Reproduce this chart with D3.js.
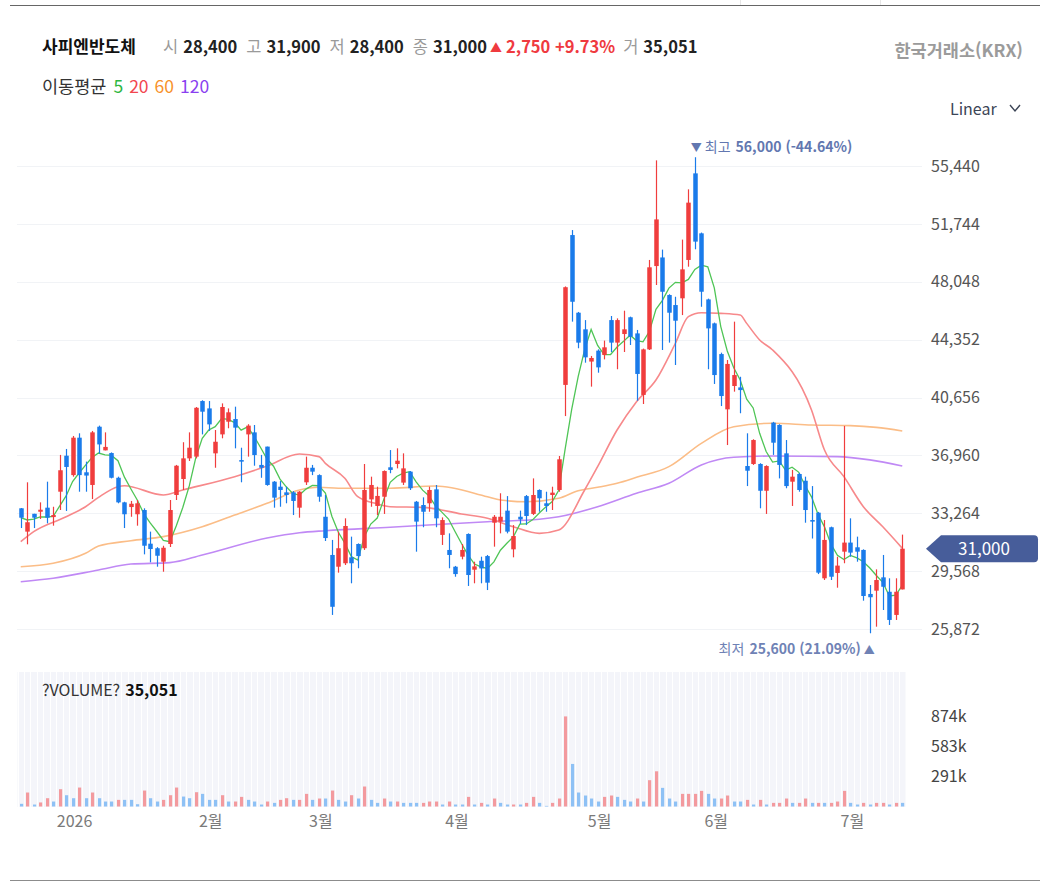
<!DOCTYPE html>
<html lang="ko">
<head>
<meta charset="utf-8">
<script src="https://cdn.jsdelivr.net/npm/d3@7/dist/d3.min.js"></script>
<style>
  body { margin: 0; background: #fff; }
  svg text { font-family: "Noto Sans CJK KR", "Noto Sans", sans-serif; }
</style>
</head>
<body>
<div id="chart"></div>
<script>
/**
 * DATA
 * */
const opens = [33580,32090,33230,33360,33620,33020,34640,36940,35700,38090,
  35880,35070,38790,37280,37110,35530,33960,33660,33200,33470,
  31320,31030,30170,31300,34430,35450,36770,36880,40430,39960,
  37090,38300,39110,39280,36660,38300,38430,36350,37520,35280,
  34960,34600,34600,33620,35240,36170,35700,33040,30600,29850,
  30070,30450,31300,31030,34150,33730,34320,36200,36410,35220,
  35920,34000,33790,33900,34790,31880,30920,29850,30490,31940,
  29660,30230,30530,32660,32730,33430,30960,33040,34360,33220,
  34750,33900,34430,34750,41460,51030,46070,45010,42950,43650,
  43370,45600,44160,44710,45780,44750,40820,43730,49050,49600,
  47200,46560,46990,49440,54970,51140,46920,45390,43430,39900,
  41390,41300,36280,36410,36410,34700,39050,38900,37090,35280,
  35770,35340,32830,33300,29110,32370,29450,30810,31390,31090,
  30920,28110,28320,29170,28250,26770,28400];
const highs = [33600,35240,33230,33960,35280,33680,36990,37370,38200,38370,
  36560,38520,38860,38430,37150,35600,34000,34050,34110,33580,
  32090,31100,31190,34110,36350,37800,38430,40050,40480,40430,
  38580,40280,39960,40070,37450,38950,38900,36990,37520,35320,
  35320,34960,34680,34680,36880,36350,35750,34430,31560,32090,
  32940,31770,31340,36410,35600,34960,36000,37300,37410,37090,
  35960,34050,34280,34960,35070,33000,31980,29900,31300,31980,
  30170,30490,30600,33150,34540,34360,32510,33430,34430,35490,
  34790,34640,34960,36920,47750,51350,46120,45600,43310,43730,
  44290,45860,45710,46200,45820,44970,43780,49440,55800,50100,
  47250,47090,50740,53950,56000,51190,46970,45440,43520,43050,
  45500,41980,38370,37990,36460,36330,39100,38950,37940,36030,
  35850,35600,35000,33350,32830,32410,30490,38840,32940,31770,
  30960,28680,29680,30600,29110,29110,31900];
const lows = [32320,31280,32320,32900,32620,32470,33470,33410,35600,34640,
  34640,34170,37070,37280,35490,33900,32320,33040,32470,30640,
  30130,29850,29530,31110,34110,34750,36600,36770,38300,38520,
  36170,38050,38690,37410,35240,36880,36300,35530,35020,33620,
  33680,33900,33150,32980,35070,35700,34000,31490,26770,29470,
  29960,28790,29750,30920,33680,33150,33220,35820,36130,35070,
  34750,30810,32370,33360,32370,31240,29750,29210,30320,28620,
  28790,28790,28360,31130,31980,31980,30450,32580,32510,33150,
  33360,33360,33470,34640,39470,45500,43800,42880,41350,42240,
  43090,43560,42460,43560,44010,40450,40240,43690,47840,43690,
  44160,42730,45920,49010,50120,46450,42460,41520,40110,37620,
  41030,39650,35000,36350,33580,33220,36990,35490,34860,33730,
  34640,32660,31650,29380,29000,29000,28510,30070,30490,30170,
  27680,25600,26020,27085,26130,26450,28400];
const closes = [32980,32690,32980,33490,32980,33150,36010,36220,38090,35700,
  35670,38430,37660,37500,35530,33960,33200,33870,33900,31190,
  30980,30550,31060,33470,36300,36770,37450,40000,39750,38940,
  37830,40050,39710,38730,36560,38860,36980,36170,35070,34260,
  34750,34430,34050,34640,36170,35920,34320,31680,27290,31030,
  32450,30070,30530,34750,35070,34370,35960,36030,36620,36130,
  34860,32730,33360,34750,32940,32830,30600,29380,30920,29320,
  29870,29740,28830,33040,33040,32090,31810,32870,33090,34430,
  34220,33730,34580,36710,47700,46770,44160,43220,43180,42580,
  43860,44160,45600,45010,44540,42160,43730,48970,52030,47410,
  46070,45560,48840,53100,50610,47410,45070,42090,40750,42800,
  42090,41130,35980,37940,34700,36280,37770,36350,35000,35600,
  34750,33470,32730,29470,31560,29210,29920,31390,30750,30810,
  27980,27900,29000,28570,26450,28250,31000];

// volume in thousands, and bar colour as drawn (u = red, d = blue)
const volumes = [26,135,19,39,80,48,167,109,80,183,
  80,135,80,48,48,64,64,64,22,154,
  80,48,64,109,183,96,80,138,122,64,
  64,109,48,48,93,64,48,19,48,35,
  64,80,64,64,122,64,77,77,154,64,
  48,109,77,193,64,35,77,48,48,35,
  35,35,35,48,48,19,48,19,19,93,
  19,35,19,77,35,19,19,19,35,93,
  35,6,35,77,870,411,135,106,77,48,
  93,106,93,64,48,77,48,254,340,180,
  77,48,122,122,122,151,122,77,77,106,
  48,48,64,19,64,19,35,35,77,35,
  35,77,35,35,35,35,48,151,35,19,
  35,19,35,35,19,35,35.051];
const volumeSide = ["d","u","d","u","u","d","u","d","d","u","d","u","d","d","d","u","d","d","d","u",
  "d","d","u","u","u","d","d","u","d","d","d","u","d","u","u","d","d","d","u","d",
  "u","u","d","u","u","d","u","d","u","d","d","u","d","u","d","d","u","d","u","d",
  "d","d","u","u","u","d","u","d","d","u","d","u","d","u","d","d","u","d","u","u",
  "d","d","u","u","u","d","d","d","d","d","u","u","d","d","d","u","d","u","u","d",
  "d","d","u","u","u","u","d","d","u","u","d","d","u","d","u","d","u","u","u","d",
  "u","u","d","u","d","u","u","u","d","d","u","d","u","u","d","u","d"];

// moving averages read as [candle index, value]
const ma20 = [[0,31450],[2,32090],[7,33040],[10,33680],[12,34280],[15,34960],[16,35020],
  [22,34430],[25,34750],[33,35600],[38,36280],[43,37050],[46,36880],[47,36450],[50,35500],
  [52,34320],[55,33860],[57,33680],[62,33640],[68,33220],[72,32940],[76,32400],[80,31980],
  [83,32190],[87,34750],[89,36240],[92,38580],[95,40390],[98,41770],[101,44120],[103,45820],
  [105,46070],[108,46030],[111,45920],[112,45390],[114,44330],[116,43690],[122,39860],
  [124,37300],[127,35600],[130,33680],[133,32400],[136,31030]];
const ma60 = [[0,29850],[5,30070],[10,30710],[12,31170],[17,31510],[22,31770],[28,32400],
  [33,33150],[38,33900],[43,34750],[46,34920],[49,34860],[57,34860],[64,35000],[72,34320],
  [74,34110],[78,34000],[83,34220],[86,34700],[89,34920],[92,35180],[95,35560],[100,36240],
  [105,37730],[110,38790],[116,39010],[122,38900],[128,38860],[132,38750],[136,38520]];
const ma120 = [[0,28890],[5,29110],[12,29640],[17,30020],[23,30110],[28,30600],[38,31680],
  [43,32020],[47,32150],[57,32370],[72,32720],[80,32880],[83,33040],[89,33680],[95,34540],
  [100,35180],[105,36350],[110,36840],[116,36920],[126,36880],[131,36670],[136,36280]];

const priceTicks = [55440,51744,48048,44352,40656,36960,33264,29568,25872];
const volumeTicks = [291,583,874];
const monthIdx = [8,29,46,67,89,107,128];
const monthLabels = ["2026","2월","3월","4월","5월","6월","7월"];

const stockName = "사피엔반도체";
const statLabels = ["시","고","저","종"];
const statValues = ["28,400","31,900","28,400","31,000"];
const changeText = "2,750 +9.73%";
const volLabel = "거", volValue = "35,051";
const maNames = ["5","20","60","120"];
const hiIdx = 104, hiText = "56,000 (-44.64%)";
const loIdx = 131, loText = "25,600 (21.09%)";

/**
 * CONSTANTS
 * */
const width = 1051, height = 883;
const upColor = "#f03d3d", downColor = "#1a7bea";
const maColors = ["#4fc556", "#f7898b", "#fbbd87", "#c089f5"];
const legendColors = ["#2fb742", "#f2464f", "#f7922b", "#8a3ff0"];
const font = '"Noto Sans CJK KR", "Noto Sans", sans-serif';

const svg = d3.select("#chart").append("svg")
  .attr("width", width).attr("height", height);

// SCALES
const x = d3.scaleBand().domain(d3.range(closes.length)).range([17.5, 905.5]);
const cx = i => x(i) + x.bandwidth() / 2;
const y = d3.scaleLinear().domain([25872, 55440]).range([629, 166]);
const yv = d3.scaleLinear().domain([0, 874]).range([806.5, 716]);

// frame lines
svg.append("line").attr("x1", 10).attr("x2", 1040).attr("y1", 5.5).attr("y2", 5.5)
  .attr("stroke", "#666");
[740, 880].forEach(px => svg.append("line").attr("x1", px + 0.5).attr("x2", px + 0.5)
  .attr("y1", 0).attr("y2", 5).attr("stroke", "#e6e6e6"));
svg.append("line").attr("x1", 10).attr("x2", 1040).attr("y1", 880.5).attr("y2", 880.5)
  .attr("stroke", "#8c8c8c");

// HEADER
svg.append("text").attr("x", 42).attr("y", 53).attr("font-size", 17)
  .attr("font-weight", 700).attr("fill", "#111").text(stockName);
let hx = 163;
const headG = svg.append("g");
function put(txt, color, weight, gap, size) {
  const t = headG.append("text").attr("x", hx).attr("y", 53).attr("font-size", size || 16.5)
    .attr("fill", color).attr("font-weight", weight).text(txt);
  hx += t.node().getComputedTextLength() + gap;
  return t;
}
statLabels.forEach((l, k) => {
  put(l, "#9a9a9a", 400, 5);
  put(statValues[k], "#222", 600, 9);
});
hx -= 6;
put("▲", "#ef3a3f", 400, 4, 12);
put(changeText, "#ef3a3f", 600, 8);
put(volLabel, "#9a9a9a", 400, 5);
put(volValue, "#222", 600, 0);

svg.append("text").attr("x", 1023).attr("y", 57).attr("text-anchor", "end")
  .attr("font-size", 17.5).attr("font-weight", 700).attr("fill", "#9b9b9b").text("한국거래소(KRX)");

// MA legend
const leg = svg.append("text").attr("x", 42).attr("y", 93).attr("font-size", 17.5);
leg.append("tspan").attr("fill", "#333").text("이동평균");
maNames.forEach((n, k) => leg.append("tspan").attr("dx", k === 0 ? 7 : 6)
  .attr("fill", legendColors[k]).text(n));

svg.append("text").attr("x", 950).attr("y", 115).attr("font-size", 16)
  .attr("fill", "#3c4556").text("Linear");
svg.append("path").attr("d", "M1010,105 L1015,111 L1020,105").attr("fill", "none")
  .attr("stroke", "#3c4556").attr("stroke-width", 1.4);

// GRID
svg.append("g").selectAll("line").data(priceTicks).join("line")
  .attr("x1", 17).attr("x2", 922)
  .attr("y1", d => Math.round(y(d)) + 0.5).attr("y2", d => Math.round(y(d)) + 0.5)
  .attr("stroke", "#f1f3f6");

// Y AXIS
const yAxis = svg.append("g").attr("transform", "translate(931,0)")
  .call(d3.axisRight(y).tickValues(priceTicks).tickFormat(d3.format(",")).tickSize(0).tickPadding(0));
yAxis.select(".domain").remove();
yAxis.selectAll("text").attr("font-family", font).attr("font-size", 16).attr("fill", "#555");

// MOVING AVERAGES (5-day one from the candle closes, the rest as read)
const ma5 = closes.map((c, i) => [i, d3.mean(closes.slice(Math.max(0, i - 4), i + 1))]);
const maLine = d3.line().x(d => cx(d[0])).y(d => y(d[1])).curve(d3.curveMonotoneX);
[ma120, ma60, ma20].forEach((s, k) => {
  svg.append("path").datum(s).attr("d", maLine).attr("fill", "none")
    .attr("stroke", maColors[3 - k]).attr("stroke-width", 1.6);
});
svg.append("path").datum(ma5).attr("d", d3.line().x(d => cx(d[0])).y(d => y(d[1])))
  .attr("fill", "none").attr("stroke", maColors[0]).attr("stroke-width", 1.3);

// CANDLES
const candle = svg.append("g").selectAll("g").data(closes).join("g");
candle.append("line")
  .attr("x1", (d, i) => Math.round(cx(i)) + 0.5).attr("x2", (d, i) => Math.round(cx(i)) + 0.5)
  .attr("y1", (d, i) => y(highs[i])).attr("y2", (d, i) => y(lows[i]))
  .attr("stroke", (d, i) => d >= opens[i] ? upColor : downColor).attr("stroke-width", 1.2);
candle.append("rect")
  .attr("x", (d, i) => Math.round(cx(i)) - 1.75).attr("width", 4.5)
  .attr("y", (d, i) => y(Math.max(d, opens[i])))
  .attr("height", (d, i) => Math.max(1.5, Math.abs(y(d) - y(opens[i]))))
  .attr("fill", (d, i) => d >= opens[i] ? upColor : downColor);

// high / low markers
const hiT = svg.append("text").attr("x", cx(hiIdx) - 4).attr("y", 152).attr("font-size", 14)
  .attr("fill", "#6277b0");
hiT.append("tspan").attr("font-size", 11).text("▼");
hiT.append("tspan").attr("dx", 3).text("최고");
hiT.append("tspan").attr("dx", 5).attr("font-weight", 700).text(hiText);

const loT = svg.append("text").attr("x", cx(loIdx) + 5).attr("y", 654).attr("font-size", 14)
  .attr("text-anchor", "end").attr("fill", "#6f82b5");
loT.append("tspan").text("최저");
loT.append("tspan").attr("dx", 5).attr("font-weight", 700).text(loText);
loT.append("tspan").attr("dx", 3).attr("font-size", 11).text("▲");

// last price tag
const ty = y(closes[closes.length - 1]);
svg.append("path")
  .attr("d", `M926,${ty} L941,${ty - 13.5} H1034 Q1038,${ty - 13.5} 1038,${ty - 9.5} V${ty + 9.5} Q1038,${ty + 13.5} 1034,${ty + 13.5} H941 Z`)
  .attr("fill", "#475d9a");
svg.append("text").attr("x", 984).attr("y", ty + 6).attr("text-anchor", "middle")
  .attr("font-size", 17).attr("fill", "#fff").text(d3.format(",")(closes[closes.length - 1]));

// VOLUME PANEL
svg.append("rect").attr("x", 17.5).attr("y", 672).attr("width", 888).attr("height", 135)
  .attr("fill", "#f4f5fa");
svg.append("g").selectAll("line").data(d3.range(closes.length + 1)).join("line")
  .attr("x1", i => Math.round(17.5 + i * x.step()) + 0.5)
  .attr("x2", i => Math.round(17.5 + i * x.step()) + 0.5)
  .attr("y1", 672).attr("y2", 807).attr("stroke", "#fff").attr("stroke-width", 1);
svg.append("g").selectAll("rect").data(volumes).join("rect")
  .attr("x", (d, i) => Math.round(cx(i)) - 1).attr("width", 3.2)
  .attr("y", d => yv(d)).attr("height", d => yv(0) - yv(d))
  .attr("fill", (d, i) => volumeSide[i] === "u" ? "#f39a9e" : "#8ec1f5");

const vAxis = svg.append("g").attr("transform", "translate(931,0)")
  .call(d3.axisRight(yv).tickValues(volumeTicks).tickFormat(d => d + "k").tickSize(0).tickPadding(0));
vAxis.select(".domain").remove();
vAxis.selectAll("text").attr("font-family", font).attr("font-size", 16).attr("fill", "#444");

const vt = svg.append("text").attr("x", 42).attr("y", 696).attr("font-size", 16).attr("fill", "#333");
vt.append("tspan").text("?VOLUME?");
vt.append("tspan").attr("dx", 5).attr("font-weight", 700).attr("fill", "#111").text(volValue);

// X AXIS
const xAxis = svg.append("g").attr("transform", "translate(0,816)")
  .call(d3.axisBottom(x).tickValues(monthIdx).tickFormat((d, k) => monthLabels[k]).tickSize(0).tickPadding(0));
xAxis.select(".domain").remove();
xAxis.selectAll("text").attr("font-family", font).attr("font-size", 16).attr("fill", "#7a7a7a")
  .attr("dx", 2);
</script>
</body>
</html>
